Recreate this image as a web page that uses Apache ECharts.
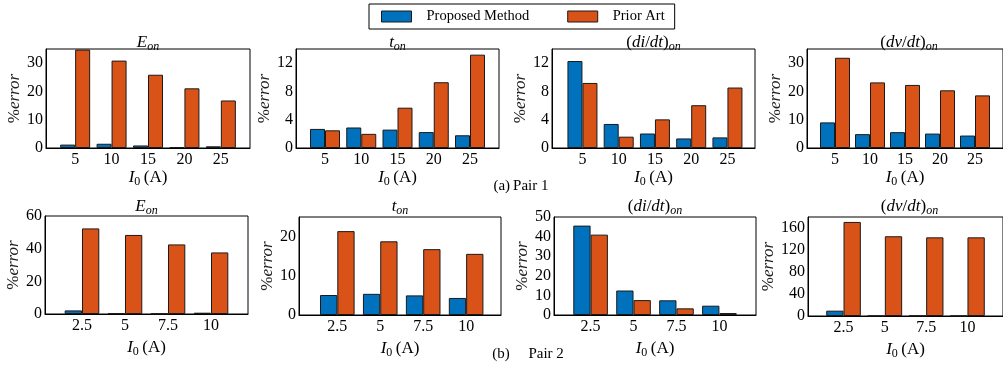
<!DOCTYPE html>
<html>
<head>
<meta charset="utf-8">
<script src="https://cdn.jsdelivr.net/npm/echarts@6/dist/echarts.min.js"></script>
<style>
html,body{margin:0;padding:0;background:#fff;}
#chart{width:1003px;height:371px;}
</style>
</head>
<body>
<div id="chart"></div>
<script>
// ---- data ----
const seriesNames = ['Proposed Method', 'Prior Art'];
const currentsPair1 = [5, 10, 15, 20, 25];
const currentsPair2 = [2.5, 5, 7.5, 10];

const eonPair1Proposed = [1.2, 1.5, 0.9, 0.3, 0.6];
const eonPair1Prior = [34.8, 30.9, 25.9, 21.1, 16.8];
const tonPair1Proposed = [2.7, 2.9, 2.6, 2.25, 1.8];
const tonPair1Prior = [2.5, 2.0, 5.7, 9.3, 13.2];
const didtPair1Proposed = [12.3, 3.4, 2.05, 1.35, 1.5];
const didtPair1Prior = [9.2, 1.6, 4.05, 6.05, 8.55];
const dvdtPair1Proposed = [9.05, 4.9, 5.6, 5.1, 4.4];
const dvdtPair1Prior = [31.9, 23.2, 22.3, 20.4, 18.6];

const eonPair2Proposed = [2.2, 0.4, 0.2, 0.8];
const eonPair2Prior = [52.4, 48.4, 42.6, 37.7];
const tonPair2Proposed = [5.1, 5.4, 5.0, 4.35];
const tonPair2Prior = [21.4, 18.8, 16.8, 15.6];
const didtPair2Proposed = [45.6, 12.5, 7.5, 4.75];
const didtPair2Prior = [41.0, 7.6, 3.4, 1.0];
const dvdtPair2Proposed = [9.7, 0.3, 0.5, 0.2];
const dvdtPair2Prior = [171, 145, 143, 143];

const titlesRich = ['{i|E}{s|on}', '{i|t}{s|on}', '{r|(}{i|di}{r|/}{i|dt}{r|)}{s|on}', '{r|(}{i|dv}{r|/}{i|dt}{r|)}{s|on}'];
const captionA = '(a)\u2009Pair 1';
const captionB = '(b)     Pair 2';

// ---- layout / style ----
const FONT = 'Liberation Serif';
const BLUE = '#0072BD';
const ORANGE = '#D95319';
const rich = {
  i: {fontFamily: FONT, fontStyle: 'italic', fontWeight: 'normal', fontSize: 17, color: '#000'},
  r: {fontFamily: FONT, fontWeight: 'normal', fontSize: 17, color: '#000'},
  s: {fontFamily: FONT, fontStyle: 'italic', fontWeight: 'normal', fontSize: 12, color: '#000', padding: [9, 0, 0, 0]},
  s0: {fontFamily: FONT, fontWeight: 'normal', fontSize: 12, color: '#000', padding: [9, 0, 0, 0]},
  p: {fontFamily: FONT, fontWeight: 'normal', fontSize: 17, color: '#222'},
  e: {fontFamily: FONT, fontStyle: 'italic', fontWeight: 'normal', fontSize: 17, color: '#222'}
};

const panels = [
  {x: currentsPair1, a: eonPair1Proposed, b: eonPair1Prior, t: 0, grid: {left: 46, top: 49, width: 204, height: 99}, xmin: 1, xmax: 29, ymax: 35, yint: 10, bw: 15, yGap: 23, xGap: 15, titleTop: 32},
  {x: currentsPair1, a: tonPair1Proposed, b: tonPair1Prior, t: 1, grid: {left: 296, top: 49, width: 203, height: 99}, xmin: 1, xmax: 29, ymax: 14, yint: 4, bw: 15, yGap: 18, xGap: 15, titleTop: 32},
  {x: currentsPair1, a: didtPair1Proposed, b: didtPair1Prior, t: 2, grid: {left: 552, top: 49, width: 203, height: 99}, xmin: 0.8, xmax: 28.8, ymax: 14, yint: 4, bw: 15, yGap: 19, xGap: 15, titleTop: 32},
  {x: currentsPair1, a: dvdtPair1Proposed, b: dvdtPair1Prior, t: 3, grid: {left: 807, top: 49, width: 204, height: 99}, xmin: 1, xmax: 29, ymax: 35, yint: 10, bw: 15, yGap: 21, xGap: 15, titleTop: 32},
  {x: currentsPair2, a: eonPair2Proposed, b: eonPair2Prior, t: 0, grid: {left: 45, top: 216, width: 203, height: 98}, xmin: 0.35, xmax: 12.15, ymax: 60, yint: 20, bw: 17.3, yGap: 22, xGap: 23, titleTop: 196},
  {x: currentsPair2, a: tonPair2Proposed, b: tonPair2Prior, t: 1, grid: {left: 299, top: 217, width: 202, height: 98}, xmin: 0.27, xmax: 12.03, ymax: 25, yint: 10, bw: 17.3, yGap: 19, xGap: 23, titleTop: 196},
  {x: currentsPair2, a: didtPair2Proposed, b: didtPair2Prior, t: 2, grid: {left: 554, top: 217, width: 202, height: 98}, xmin: 0.37, xmax: 12.13, ymax: 50, yint: 10, bw: 17.3, yGap: 23, xGap: 23, titleTop: 196},
  {x: currentsPair2, a: dvdtPair2Proposed, b: dvdtPair2Prior, t: 3, grid: {left: 808, top: 217, width: 203, height: 99}, xmin: 0.35, xmax: 12.15, ymax: 180, yint: 40, bw: 17.3, yGap: 27, xGap: 23, titleTop: 196}
];

const grids = [], xAxes = [], yAxes = [], series = [], titles = [];
panels.forEach((p, k) => {
  grids.push(Object.assign({show: true, borderColor: '#000', borderWidth: 1, backgroundColor: 'transparent', containLabel: false}, p.grid));
  xAxes.push({
    type: 'value', gridIndex: k, min: p.xmin, max: p.xmax,
    axisLine: {show: true, onZero: false, lineStyle: {color: '#000', width: 1}},
    axisTick: {show: false},
    splitLine: {show: false},
    axisLabel: {customValues: p.x, margin: 4, fontFamily: FONT, fontSize: 16, color: '#000', formatter: v => String(v)},
    name: '{i|I}{s0|0}{r|\u2009(A)}', nameLocation: 'middle', nameGap: p.xGap,
    nameTextStyle: {rich: rich, verticalAlign: 'top'}
  });
  yAxes.push({
    type: 'value', gridIndex: k, min: 0, max: p.ymax, interval: p.yint,
    axisLine: {show: true, lineStyle: {color: '#000', width: 1}},
    axisTick: {show: false},
    splitLine: {show: false},
    axisLabel: {margin: 3, fontFamily: FONT, fontSize: 16, color: '#000', showMaxLabel: p.ymax % p.yint === 0},
    name: '{p|%}{e|error}', nameLocation: 'middle', nameRotate: 90, nameGap: p.yGap,
    nameTextStyle: {rich: rich}
  });
  series.push({
    name: seriesNames[0], type: 'bar', xAxisIndex: k, yAxisIndex: k,
    data: p.x.map((c, j) => [c, p.a[j]]),
    barWidth: p.bw, barGap: '0%',
    itemStyle: {color: BLUE, borderColor: '#1a1a1a', borderWidth: 1},
    emphasis: {disabled: true}, animation: false
  });
  series.push({
    name: seriesNames[1], type: 'bar', xAxisIndex: k, yAxisIndex: k,
    data: p.x.map((c, j) => [c, p.b[j]]),
    barWidth: p.bw, barGap: '0%',
    itemStyle: {color: ORANGE, borderColor: '#1a1a1a', borderWidth: 1},
    emphasis: {disabled: true}, animation: false
  });
  titles.push({
    text: titlesRich[p.t], left: p.grid.left + p.grid.width / 2, top: p.titleTop, textAlign: 'center',
    textStyle: {rich: rich, fontWeight: 'normal'}, padding: 0
  });
});
titles.push({text: captionA, left: 521, top: 179, textAlign: 'center', padding: 0,
  textStyle: {fontFamily: FONT, fontSize: 15, fontWeight: 'normal', color: '#000'}});
titles.push({text: captionB, left: 528, top: 347, textAlign: 'center', padding: 0,
  textStyle: {fontFamily: FONT, fontSize: 15, fontWeight: 'normal', color: '#000'}});

const chart = echarts.init(document.getElementById('chart'), null, {renderer: 'canvas'});
chart.setOption({
  animation: false,
  backgroundColor: '#fff',
  title: titles,
  legend: {
    data: seriesNames, left: 369, top: 4, icon: 'rect',
    padding: [5, 10, 5, 12], itemGap: 38, itemWidth: 30, itemHeight: 11,
    borderColor: '#000', borderWidth: 1,
    textStyle: {fontFamily: FONT, fontSize: 14.5, color: '#000', padding: [0, 0, 0, 10]},
    itemStyle: {borderColor: '#1a1a1a', borderWidth: 1},
    selectedMode: false
  },
  grid: grids, xAxis: xAxes, yAxis: yAxes, series: series
});
</script>
</body>
</html>
